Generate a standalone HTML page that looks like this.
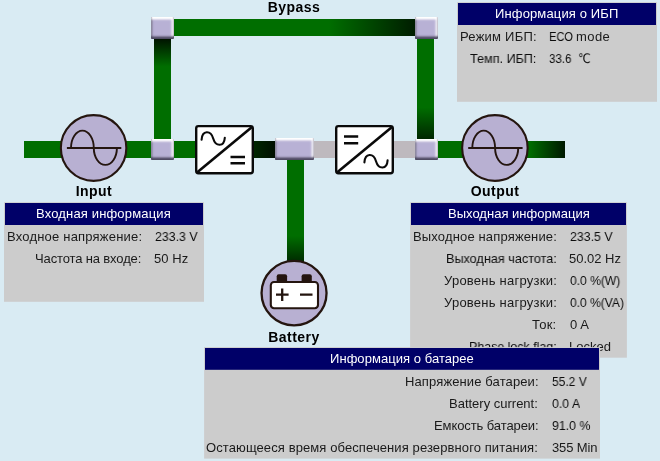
<!DOCTYPE html>
<html><head><meta charset="utf-8">
<style>
html,body{margin:0;padding:0;}
body{width:660px;height:461px;overflow:hidden;background:#d9ebf3;position:relative;font-family:"Liberation Sans","DejaVu Sans",sans-serif;}
.abs{position:absolute;}
.ln{position:absolute;background:#006e00;}
.jn{position:absolute;background:#b8b1d5;border-radius:1px;box-shadow:inset 0 -2.5px 2px #4c4860, inset 0 2.5px 2px #ffffff, inset -2.5px 0 2px #f4f3fa, inset 1.5px 0 1.5px #807c98;}
.lbl{position:absolute;font-weight:bold;font-size:14px;color:#000;line-height:16px;text-align:center;width:100px;letter-spacing:0.45px;will-change:transform;}
.pn{position:absolute;background:#cccccc;}
.hd{position:absolute;background:#000068;height:22px;}
.t,.h{position:absolute;white-space:pre;font-size:13px;line-height:20px;color:#1a1a1a;will-change:transform;}
.h{color:#fff;}
.g i{position:absolute;left:0;top:0;font-size:1px;line-height:1px;color:transparent;white-space:pre;}
</style></head><body>

<!-- lines -->
<div class="ln" style="left:24px;top:141px;width:128px;height:17px;"></div>
<div class="ln" style="left:174px;top:141px;width:22px;height:17px;"></div>
<div class="ln" style="left:254px;top:141px;width:22px;height:17px;background:linear-gradient(90deg,#002600,#000e00);"></div>
<div class="ln" style="left:313px;top:141px;width:24px;height:17px;background:#beb9be;"></div>
<div class="ln" style="left:393px;top:141px;width:24px;height:17px;background:#beb9be;"></div>
<div class="ln" style="left:437px;top:141px;width:30px;height:17px;"></div>
<div class="ln" style="left:525px;top:141px;width:40px;height:17px;background:linear-gradient(90deg,#006e00 0%,#006e00 10%,#001800 100%);"></div>
<!-- bypass -->
<div class="ln" style="left:154px;top:38px;width:17px;height:102px;background:linear-gradient(180deg,#001000 0%,#006e00 28%,#006e00 100%);"></div>
<div class="ln" style="left:174px;top:19px;width:242px;height:17px;background:linear-gradient(90deg,#006e00 0%,#006e00 64%,#001c00 100%);"></div>
<div class="ln" style="left:417px;top:38px;width:17px;height:102px;background:linear-gradient(180deg,#006e00 0%,#006e00 68%,#002400 100%);"></div>
<!-- battery line -->
<div class="ln" style="left:287px;top:159px;width:17px;height:110px;background:linear-gradient(180deg,#006e00 0%,#006e00 70%,#001800 100%);"></div>

<!-- junctions -->
<div class="jn" style="left:151px;top:17px;width:23px;height:22px;"></div>
<div class="jn" style="left:151px;top:139px;width:23px;height:21px;"></div>
<div class="jn" style="left:275px;top:138px;width:39px;height:22px;"></div>
<div class="jn" style="left:415px;top:17px;width:23px;height:22px;"></div>
<div class="jn" style="left:415px;top:139px;width:23px;height:21px;"></div>

<!-- icons -->
<svg class="abs" style="left:0;top:0;" width="660" height="461" viewBox="0 0 660 461">
  <g id="src1" transform="translate(-0.4,0)">
    <ellipse cx="94" cy="148" rx="32.75" ry="32.85" fill="#b8b0d2" stroke="#24150f" stroke-width="2.1"/>
    <path d="M67.3 148 H121.7" stroke="#24150f" stroke-width="1.9" fill="none"/>
    <path d="M71.4 148 A11.4 17.4 0 0 1 94.2 148 A11.5 16.8 0 0 0 117.3 148" stroke="#24150f" stroke-width="1.9" fill="none"/>
  </g>
  <g transform="translate(400.9,0)">
    <ellipse cx="94" cy="148" rx="32.75" ry="32.85" fill="#b8b0d2" stroke="#24150f" stroke-width="2.1"/>
    <path d="M67.3 148 H121.7" stroke="#24150f" stroke-width="1.9" fill="none"/>
    <path d="M71.4 148 A11.4 17.4 0 0 1 94.2 148 A11.5 16.8 0 0 0 117.3 148" stroke="#24150f" stroke-width="1.9" fill="none"/>
  </g>
  <!-- rectifier -->
  <g>
    <rect x="196.2" y="126.1" width="56.6" height="47.2" rx="2.2" fill="#fff" stroke="#0a0a0a" stroke-width="2.4"/>
    <path d="M197 172.6 L252 126.9" stroke="#0a0a0a" stroke-width="2.6"/>
    <path transform="translate(213.2,138.5)" d="M-11.6 1.2 C-11 -8.5 -2.5 -8.5 0 0 S11 8.5 11.6 -0.8" stroke="#0a0a0a" stroke-width="2.1" fill="none" stroke-linecap="round"/>
    <path d="M230.5 157 H245 M230.5 163.3 H245" stroke="#0a0a0a" stroke-width="2.6"/>
  </g>
  <!-- inverter -->
  <g>
    <rect x="336.2" y="126.1" width="56.6" height="47.2" rx="2.2" fill="#fff" stroke="#0a0a0a" stroke-width="2.4"/>
    <path d="M337 172.6 L392 126.9" stroke="#0a0a0a" stroke-width="2.6"/>
    <path d="M344 136.5 H358.2 M344 143.2 H358.2" stroke="#0a0a0a" stroke-width="2.6"/>
    <path transform="translate(376,161.2)" d="M-11.6 1.2 C-11 -8.5 -2.5 -8.5 0 0 S11 8.5 11.6 -0.8" stroke="#0a0a0a" stroke-width="2.1" fill="none" stroke-linecap="round"/>
  </g>
  <!-- battery -->
  <g>
    <ellipse cx="294.05" cy="293.1" rx="32.5" ry="32.2" fill="#b8b0d2" stroke="#24150f" stroke-width="2.3"/>
    <path d="M276.7 282 V276.3 Q276.7 274.3 278.7 274.3 H285.1 Q287.1 274.3 287.1 276.3 V282 Z" fill="#24150f"/>
    <path d="M301.6 282 V276.3 Q301.6 274.3 303.6 274.3 H309.8 Q311.8 274.3 311.8 276.3 V282 Z" fill="#24150f"/>
    <rect x="270.8" y="282" width="47.2" height="26.2" rx="3.2" fill="#fff" stroke="#24150f" stroke-width="2.1"/>
    <path d="M276 294.6 H288.6 M282.2 288.5 V301 M300 294.6 H312.5" stroke="#24150f" stroke-width="2.3"/>
  </g>
</svg>

<!-- labels -->
<div class="lbl" style="left:244.2px;top:-1px;">Bypass</div>
<div class="lbl" style="left:44.2px;top:182.7px;">Input</div>
<div class="lbl" style="left:444.9px;top:183px;">Output</div>
<div class="lbl" style="left:244.2px;top:329.2px;">Battery</div>

<!-- panels -->
<svg class="abs" style="left:0;top:0;" width="660" height="461" viewBox="0 0 660 461">
  <rect x="457" y="2.2" width="200" height="99.6" fill="#cccccc"/>
  <rect x="458" y="3" width="198" height="22" fill="#000068"/>
  <rect x="4" y="202.2" width="200" height="99.6" fill="#cccccc"/>
  <rect x="5" y="203" width="198" height="22" fill="#000068"/>
  <rect x="410.1" y="202.2" width="216.8" height="155.5" fill="#cccccc"/>
  <rect x="411" y="203" width="215" height="22" fill="#000068"/>
</svg>
<span class="h" style="left:495.30px;top:4.0px;letter-spacing:0.137px;">Информация о ИБП</span>
<span class="t" style="left:459.50px;top:26.8px;letter-spacing:0.231px;">Режим ИБП:</span>
<span class="g"><span class="t" style="left:548.70px;top:26.8px;letter-spacing:0px;color:#0c0c0c;transform:scaleX(0.8525);transform-origin:0 0;">ECO</span><i> </i><span class="t" style="left:576.20px;top:26.8px;letter-spacing:0.423px;">mode</span></span>
<span class="t" style="left:469.55px;top:48.6px;letter-spacing:0px;color:#0c0c0c;transform:scaleX(0.9699);transform-origin:0 0;">Темп. ИБП:</span>
<span class="g"><span class="t" style="left:549.11px;top:48.6px;letter-spacing:0px;color:#0c0c0c;transform:scaleX(0.891);transform-origin:0 0;">33.6</span><i>&nbsp; </i><span class="t" style="left:577.95px;top:48.6px;letter-spacing:0px;color:#0c0c0c;transform:scaleX(0.867);transform-origin:0 0;">℃</span></span>
<span class="h" style="left:36.00px;top:204.0px;letter-spacing:0.16px;">Входная информация</span>
<span class="t" style="left:6.50px;top:226.8px;letter-spacing:0.201px;">Входное напряжение:</span>
<span class="t" style="left:154.74px;top:226.8px;letter-spacing:0px;color:#0c0c0c;transform:scaleX(0.9483);transform-origin:0 0;">233.3 V</span>
<span class="t" style="left:35.30px;top:248.6px;letter-spacing:-0.134px;">Частота на входе:</span>
<span class="t" style="left:154.30px;top:248.6px;letter-spacing:0.045px;">50 Hz</span>
<span class="h" style="left:447.70px;top:204.0px;letter-spacing:0.015px;">Выходная информация</span>
<span class="t" style="left:412.70px;top:226.8px;letter-spacing:0.154px;">Выходное напряжение:</span>
<span class="t" style="left:569.74px;top:226.8px;letter-spacing:0px;color:#0c0c0c;transform:scaleX(0.9483);transform-origin:0 0;">233.5 V</span>
<span class="t" style="left:445.70px;top:248.6px;letter-spacing:0px;color:#0c0c0c;transform:scaleX(0.9731);transform-origin:0 0;">Выходная частота:</span>
<span class="t" style="left:569.30px;top:248.6px;letter-spacing:-0.011px;">50.02 Hz</span>
<span class="t" style="left:443.65px;top:270.7px;letter-spacing:0.238px;">Уровень нагрузки:</span>
<span class="t" style="left:569.91px;top:270.7px;letter-spacing:0px;color:#0c0c0c;transform:scaleX(0.9293);transform-origin:0 0;">0.0 %(W)</span>
<span class="t" style="left:443.65px;top:292.7px;letter-spacing:0.238px;">Уровень нагрузки:</span>
<span class="t" style="left:569.91px;top:292.7px;letter-spacing:0px;color:#0c0c0c;transform:scaleX(0.9256);transform-origin:0 0;">0.0 %(VA)</span>
<span class="t" style="left:532.34px;top:314.7px;letter-spacing:0.243px;">Ток:</span>
<span class="t" style="left:569.85px;top:314.7px;letter-spacing:0.03px;">0 A</span>
<span class="t" style="left:468.70px;top:336.7px;letter-spacing:0px;color:#0c0c0c;transform:scaleX(0.9549);transform-origin:0 0;">Phase lock flag:</span>
<span class="t" style="left:569.30px;top:336.7px;letter-spacing:-0.012px;">Locked</span>
<svg class="abs" style="left:0;top:0;" width="660" height="461" viewBox="0 0 660 461">
  <rect x="204.1" y="347.1" width="395.9" height="111.5" fill="#cccccc"/>
  <rect x="205" y="348" width="394" height="21.8" fill="#000068"/>
</svg>
<span class="h" style="left:329.60px;top:348.5px;letter-spacing:0.052px;">Информация о батарее</span>
<span class="t" style="left:404.60px;top:371.8px;letter-spacing:0.12px;">Напряжение батареи:</span>
<span class="t" style="left:551.77px;top:371.8px;letter-spacing:0px;color:#0c0c0c;transform:scaleX(0.925);transform-origin:0 0;">55.2 V</span>
<span class="t" style="left:449.40px;top:393.6px;letter-spacing:-0.003px;">Battery current:</span>
<span class="t" style="left:552.01px;top:393.6px;letter-spacing:0px;color:#0c0c0c;transform:scaleX(0.9487);transform-origin:0 0;">0.0 A</span>
<span class="t" style="left:433.60px;top:415.8px;letter-spacing:-0.093px;">Емкость батареи:</span>
<span class="t" style="left:551.84px;top:415.8px;letter-spacing:0px;color:#0c0c0c;transform:scaleX(0.9491);transform-origin:0 0;">91.0 %</span>
<span class="t" style="left:206.44px;top:438.0px;letter-spacing:0.099px;">Остающееся время обеспечения резервного питания:</span>
<span class="t" style="left:551.74px;top:438.0px;letter-spacing:-0.14px;">355 Min</span>
</body></html>
